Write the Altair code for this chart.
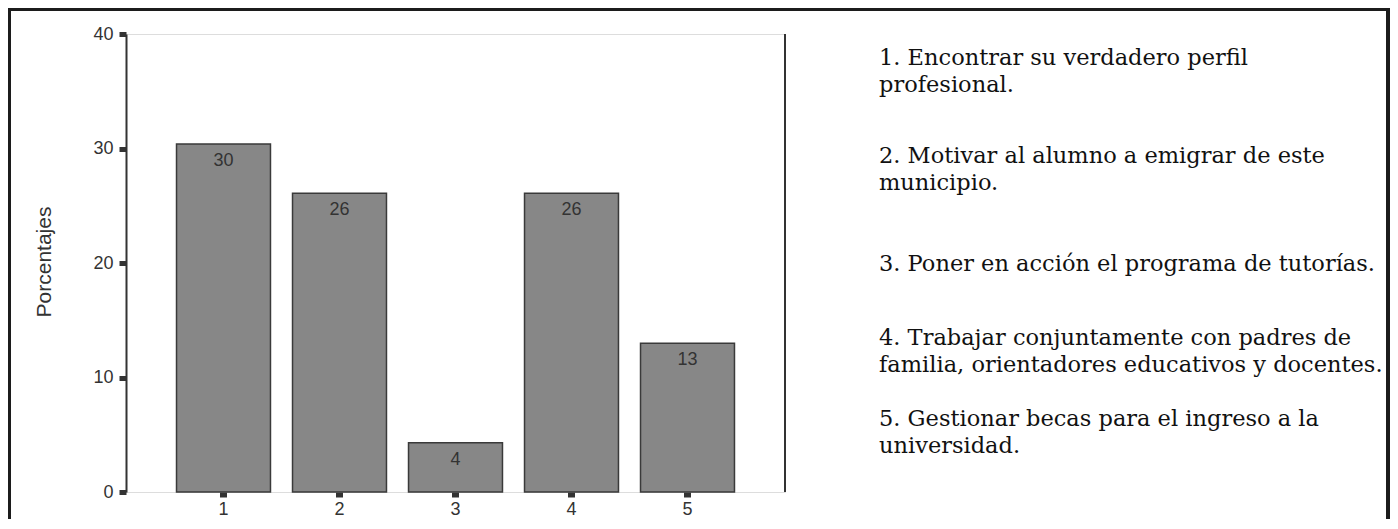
import altair as alt
import pandas as pd

categories = ["1", "2", "3", "4", "5"]
values = [30.4, 26.1, 4.3, 26.1, 13.0]
y_ticks = [0, 10, 20, 30, 40]
y_title = "Porcentajes"
notes = [
    "1. Encontrar su verdadero perfil",
    "profesional.",
    "2. Motivar al alumno a emigrar de este",
    "municipio.",
    "3. Poner en acción el programa de tutorías.",
    "4. Trabajar conjuntamente con padres de",
    "familia, orientadores educativos y docentes.",
    "5. Gestionar becas para el ingreso a la",
    "universidad.",
]
note_baselines = [31, 58, 129, 156, 237, 311, 338, 392, 419]

W, H = 659, 458
PL, PT = 118, 26
SVG_W, SVG_H = 1382, 511

df = pd.DataFrame({"cat": categories, "val": values})

x_enc = alt.X("cat:N", sort=categories, title=None,
              scale=alt.Scale(paddingInner=0.19, paddingOuter=0.4355),
              axis=alt.Axis(labelAngle=0, domain=False, ticks=True, tickSize=5,
                            tickWidth=7, tickColor="#333333", labelFont="Liberation Sans",
                            labelFontSize=18, labelColor="#333333", labelPadding=3))
y_enc = alt.Y("val:Q", title=None,
              scale=alt.Scale(domain=[0, 40], nice=False),
              axis=alt.Axis(values=y_ticks, grid=False, domain=True, domainColor="#333333",
                            domainWidth=2, tickSize=7, tickWidth=5, tickColor="#333333",
                            labelFont="Liberation Sans", labelFontSize=18,
                            labelColor="#333333", labelPadding=6))

bars = alt.Chart(df).mark_bar(color="#878787", stroke="#3a3a3a", strokeWidth=1.5).encode(
    x=x_enc, y=y_enc)

labels = alt.Chart(df).mark_text(font="Liberation Sans", fontSize=18, color="#333333",
                                 baseline="middle", dy=17).encode(
    x=alt.X("cat:N", sort=categories),
    y=alt.Y("val:Q"),
    text=alt.Text("val:Q", format=".0f"))

right_border = alt.Chart(df).mark_rule(color="#333333", strokeWidth=2).encode(
    x=alt.value(W), y=alt.value(0), y2=alt.value(H))

title_df = pd.DataFrame({"t": [y_title]})
ytitle = alt.Chart(title_df).mark_text(font="Liberation Sans", fontSize=21, color="#333333",
                                        angle=270, baseline="middle", align="center").encode(
    x=alt.value(-81), y=alt.value(H / 2 - 1), text="t:N")

notes_df = pd.DataFrame({"t": notes, "yb": note_baselines})
notes_chart = alt.Chart(notes_df).mark_text(font="DejaVu Serif", fontSize=22.5, color="#111111",
                                             align="left", baseline="alphabetic").encode(
    x=alt.value(753), y=alt.Y("yb:Q", scale=None), text="t:N")

frame_top = alt.Chart(title_df).mark_rule(color="#1c1c1c", strokeWidth=5).encode(
    x=alt.value(-PL), x2=alt.value(SVG_W - PL), y=alt.value(-PT + 0.5))
frame_left = alt.Chart(title_df).mark_rule(color="#1c1c1c", strokeWidth=5).encode(
    x=alt.value(-PL + 0.5), y=alt.value(-PT), y2=alt.value(SVG_H - PT))
frame_right = alt.Chart(title_df).mark_rule(color="#1c1c1c", strokeWidth=5).encode(
    x=alt.value(SVG_W - PL - 1.5), y=alt.value(-PT), y2=alt.value(SVG_H - PT))

chart = alt.layer(bars, labels, right_border, ytitle, notes_chart,
                  frame_top, frame_left, frame_right).properties(
    width=W, height=H,
    autosize=alt.AutoSizeParams(type="none"),
    padding={"left": PL, "top": PT, "right": SVG_W - PL - W, "bottom": SVG_H - PT - H},
).configure_view(stroke="#555555", strokeWidth=1).configure(background="white")

chart.save("out.html", embed_options={"renderer": "svg", "actions": False})
